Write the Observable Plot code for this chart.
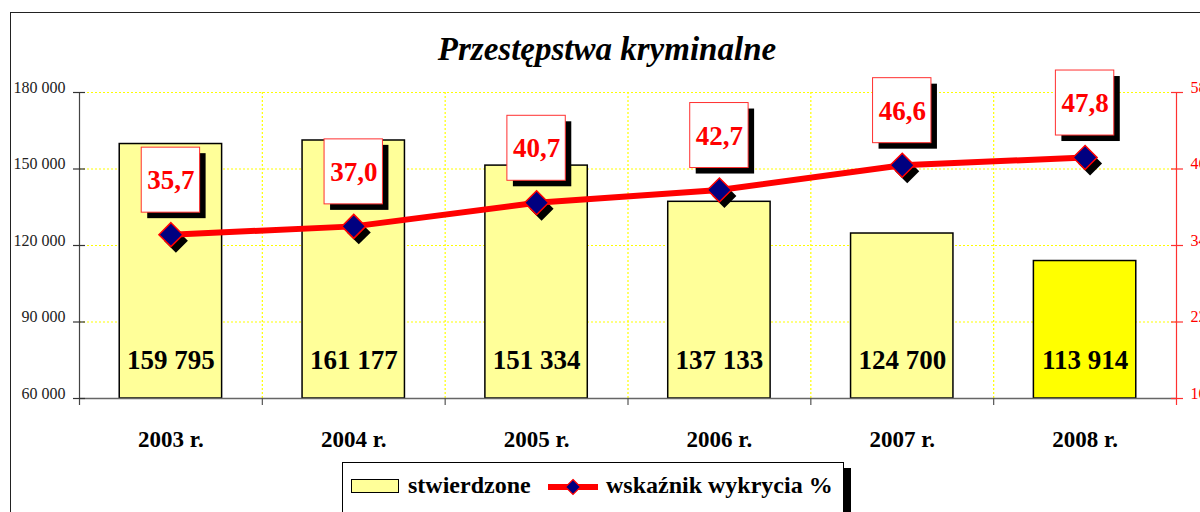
<!DOCTYPE html>
<html>
<head>
<meta charset="utf-8">
<script src="https://cdn.jsdelivr.net/npm/d3@7"></script>
<script src="https://cdn.jsdelivr.net/npm/@observablehq/plot@0.6"></script>
<style>
  html, body { margin: 0; padding: 0; background: #fff; }
  #wrap { position: relative; width: 1200px; height: 512px; overflow: hidden; font-family: "Liberation Serif", serif; }
  #frame { position: absolute; left: 10px; top: 12px; width: 1300px; height: 700px; border-left: 1.5px solid #222; border-top: 1.5px solid #222; }
  #chart { position: absolute; left: 0; top: 0; }
  #title { position: absolute; left: 607px; top: 33px; transform: translateX(-50%); font: italic bold 33px/33px "Liberation Serif", serif; color: #000; white-space: nowrap; }
  #legend { position: absolute; left: 342px; top: 462px; width: 500px; height: 49px; border: 1px solid #000; background: #fff; box-shadow: 7px 6px 0 #000; }
  #legend .sw { position: absolute; left: 8px; top: 16px; width: 46px; height: 12px; background: #ffff99; border: 1.5px solid #000; }
  #legend .t { position: absolute; top: 10px; font: bold 24px/24px "Liberation Serif", serif; white-space: nowrap; color: #000; }
  #legend svg { position: absolute; left: 205px; top: 12px; }
</style>
</head>
<body>
<div id="wrap">
  <div id="frame"></div>
  <div id="chart"></div>
  <div id="title">Przestępstwa kryminalne</div>
  <div id="legend">
    <div class="sw"></div>
    <div class="t" style="left:65px">stwierdzone</div>
    <svg width="52" height="24" viewBox="0 0 52 24">
      <line x1="0" y1="12" x2="50" y2="12" stroke="#ff0000" stroke-width="6"/>
      <path d="M25,4.5 L32.5,12 L25,19.5 L17.5,12 Z" fill="#000080" stroke="#ff0000" stroke-width="1.2"/>
    </svg>
    <div class="t" style="left:263px">wskaźnik wykrycia %</div>
  </div>
</div>
<script>
// ---- data ----
const years = ["2003 r.", "2004 r.", "2005 r.", "2006 r.", "2007 r.", "2008 r."];
const counts = [159795, 161177, 151334, 137133, 124700, 113914];
const rates = [35.7, 37.0, 40.7, 42.7, 46.6, 47.8];
const leftTicks = [60000, 90000, 120000, 150000, 180000];
const rightTicks = [10, 22, 34, 46, 58];

// ---- layout ----
const W = 1200, H = 512;
const mL = 79, mR = 24, mT = 92, mB = 114;
const innerW = W - mL - mR, innerH = H - mT - mB;
const step = innerW / years.length;
const yMin = leftTicks[0], yMax = leftTicks[leftTicks.length - 1];
const rMin = rightTicks[0], rMax = rightTicks[rightTicks.length - 1];
const u = (yMax - yMin) / innerH; // data units per pixel
const toLeft = p => yMin + (p - rMin) / (rMax - rMin) * (yMax - yMin);
const fromLeft = v => rMin + (v - yMin) / (yMax - yMin) * (rMax - rMin);

const data = years.map((year, i) => ({year, count: counts[i], rate: rates[i], ry: toLeft(rates[i]), last: i === years.length - 1}));
const fmtNum = v => d3.format(",")(v).replace(/,/g, " ");
const fmtPct = v => v.toFixed(1).replace(".", ",");
const inner = years.slice(0, years.length - 1);
const font = "Liberation Serif";
const boxInset = 22;

const chart = Plot.plot({
  width: W, height: H,
  marginLeft: mL, marginRight: mR, marginTop: mT, marginBottom: mB,
  style: {background: "transparent", fontFamily: font},
  x: {type: "band", domain: years, paddingInner: 0.44, paddingOuter: 0.22, round: false, axis: null},
  y: {domain: [yMin, yMax], axis: null},
  marks: [
    // grid
    Plot.ruleY(leftTicks.slice(1), {stroke: "#ffff00", strokeWidth: 1.2, strokeDasharray: "2,2"}),
    Plot.ruleX(inner, {x: d => d, dx: step / 2, y1: yMin, y2: yMax, stroke: "#ffff00", strokeWidth: 1.2, strokeDasharray: "2,2"}),
    // bars
    Plot.barY(data, {x: "year", y1: yMin, y2: "count", fill: d => d.last ? "#ffff00" : "#ffff99", stroke: "#000", strokeWidth: 1.5}),
    // x axis line and ticks
    Plot.ruleY([yMin], {stroke: "#666", strokeWidth: 1.5}),
    Plot.ruleX(inner, {x: d => d, dx: step / 2, y1: yMin, y2: yMin - 7 * u, stroke: "#555", strokeWidth: 1.2}),
    // left axis line
    Plot.ruleX([years[0]], {x: d => d, dx: -step / 2, y1: yMin - 7 * u, y2: yMax, stroke: "#444", strokeWidth: 1.2}),
    // right axis line
    Plot.ruleX([years[years.length - 1]], {x: d => d, dx: step / 2, y1: yMin - 7 * u, y2: yMax, stroke: "#ff3030", strokeWidth: 1.2}),
    // left axis
    Plot.axisY({anchor: "left", ticks: leftTicks, tickSize: 12, dx: 6, tickFormat: () => "", stroke: "#333", strokeWidth: 1.2}),
    Plot.axisY({anchor: "left", ticks: leftTicks, tickSize: 0, tickPadding: 14, dy: -5, tickFormat: fmtNum, fill: "#222", fontSize: 16, fontFamily: font}),
    // right axis
    Plot.axisY({anchor: "right", ticks: rightTicks.map(toLeft), tickSize: 12, dx: -6, tickFormat: () => "", stroke: "#ff3030", strokeWidth: 1.2}),
    Plot.axisY({anchor: "right", ticks: rightTicks.map(toLeft), tickSize: 0, tickPadding: 14, dy: -5, tickFormat: v => String(Math.round(fromLeft(v))), fill: "#ff0000", fontSize: 16, fontFamily: font}),
    // bar labels
    Plot.text(data, {x: "year", y: yMin, dy: -38, text: d => fmtNum(d.count), fontSize: 27, fontWeight: "bold", fontFamily: font, fill: "#000"}),
    // x labels
    Plot.text(data, {x: "year", y: yMin, dy: 41, text: "year", fontSize: 23, fontWeight: "bold", fontFamily: font, fill: "#000"}),
    // line
    Plot.dot(data, {x: "year", y: "ry", symbol: "diamond2", r: 10.8, fill: "#000", dx: 5, dy: 6}),
    Plot.line(data, {x: "year", y: "ry", stroke: "#ff0000", strokeWidth: 6}),
    Plot.dot(data, {x: "year", y: "ry", symbol: "diamond2", r: 10.8, fill: "#000080", stroke: "#ff0000", strokeWidth: 1.5}),
    // percent label boxes
    Plot.barY(data, {x: "year", y1: d => d.ry + 22 * u, y2: d => d.ry + 87 * u, insetLeft: boxInset, insetRight: boxInset, fill: "#000", dx: 6, dy: 6}),
    Plot.barY(data, {x: "year", y1: d => d.ry + 22 * u, y2: d => d.ry + 87 * u, insetLeft: boxInset, insetRight: boxInset, fill: "#fff", stroke: "#ff3030", strokeWidth: 1}),
    Plot.text(data, {x: "year", y: "ry", dy: -54, text: d => fmtPct(d.rate), fontSize: 27, fontWeight: "bold", fontFamily: font, fill: "#ff0000"})
  ]
});
document.getElementById("chart").appendChild(chart);
</script>
</body>
</html>
